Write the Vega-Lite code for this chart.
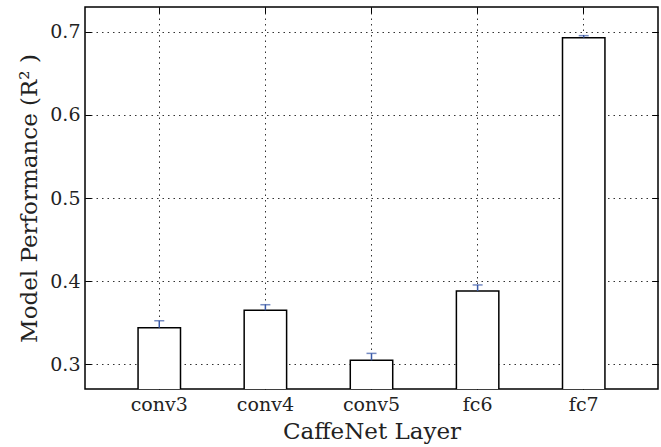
{
  "$schema": "https://vega.github.io/schema/vega-lite/v6.json",
  "autosize": "none",
  "width": 573,
  "height": 382,
  "padding": {"left": 85, "top": 7, "right": 3, "bottom": 58},
  "background": "white",
  "config": {
    "font": "DejaVu Serif",
    "view": {"stroke": "black", "strokeWidth": 1.5},
    "axis": {
      "labelFont": "DejaVu Serif",
      "titleFont": "DejaVu Serif",
      "labelFontSize": 19,
      "titleFontSize": 23,
      "titleFontWeight": "normal",
      "labelColor": "#222",
      "titleColor": "#222",
      "domain": false,
      "gridColor": "black",
      "gridDash": [1.5, 4],
      "gridOpacity": 0.8,
      "gridWidth": 1,
      "tickColor": "black",
      "tickSize": -6,
      "tickWidth": 1
    }
  },
  "data": {
    "values": [
      {"layer": "conv3", "r2": 0.3438, "hi": 0.3522},
      {"layer": "conv4", "r2": 0.3648, "hi": 0.3715},
      {"layer": "conv5", "r2": 0.3045, "hi": 0.3129},
      {"layer": "fc6", "r2": 0.388, "hi": 0.3953},
      {"layer": "fc7", "r2": 0.6931, "hi": 0.6955}
    ]
  },
  "layer": [
    {
      "mark": {"type": "bar", "fill": "white", "stroke": "black", "strokeWidth": 1.5, "clip": true},
      "encoding": {
        "x": {
          "field": "layer", "type": "nominal", "sort": null,
          "scale": {"paddingInner": 0.6, "paddingOuter": 0.5},
          "axis": {"title": "CaffeNet Layer", "labelAngle": 0, "grid": true, "bandPosition": 0.5, "labelPadding": 12, "titlePadding": 6, "orient": "bottom"}
        },
        "y": {
          "field": "r2", "type": "quantitative",
          "scale": {"domain": [0.27, 0.73], "nice": false, "zero": false},
          "axis": {"title": "Model Performance (R² )", "values": [0.3, 0.4, 0.5, 0.6, 0.7], "format": ".1f", "grid": true, "labelPadding": 11, "titlePadding": 8, "orient": "left"}
        },
        "y2": {"datum": 0.2}
      }
    },
    {
      "mark": {"type": "rule", "color": "#3a5aa8", "strokeWidth": 1.5},
      "encoding": {
        "x": {"field": "layer", "type": "nominal", "sort": null,
          "axis": {"orient": "top", "labels": false, "title": null, "grid": false, "bandPosition": 0.5}},
        "y": {"field": "r2", "type": "quantitative",
          "axis": {"orient": "right", "labels": false, "title": null, "grid": false, "values": [0.3, 0.4, 0.5, 0.6, 0.7]}},
        "y2": {"field": "hi"}
      }
    },
    {
      "mark": {"type": "tick", "orient": "horizontal", "color": "#3a5aa8", "thickness": 1.5, "size": 10},
      "encoding": {
        "x": {"field": "layer", "type": "nominal", "sort": null, "axis": null},
        "y": {"field": "hi", "type": "quantitative", "axis": null}
      }
    }
  ],
  "resolve": {"axis": {"x": "independent", "y": "independent"}}
}
